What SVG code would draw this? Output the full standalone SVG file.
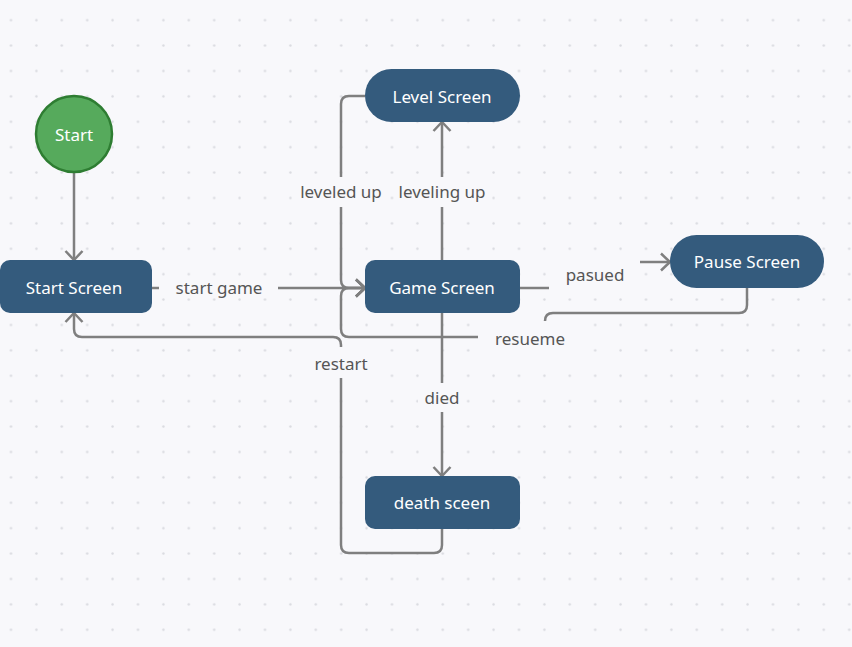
<svg xmlns="http://www.w3.org/2000/svg" width="852" height="647" viewBox="0 0 852 647">
<defs>
<pattern id="grid" patternUnits="userSpaceOnUse" x="9.5" y="18.7" width="25.4" height="25.4">
<circle cx="1.5" cy="1.5" r="1.2" fill="#d9dae0"/>
</pattern>
<marker id="arr" markerUnits="userSpaceOnUse" markerWidth="14" markerHeight="20" refX="11" refY="10" orient="auto">
<path d="M2,1.5 L11,10 L2,18.5" fill="none" stroke="#7f7f7f" stroke-width="2.5" stroke-linejoin="miter"/>
</marker>
<style>
.bg{fill:#f8f8fb}
.node{fill:#345b7d}
.ntext{font-family:"Noto Sans","Open Sans","DejaVu Sans",sans-serif;font-size:17px;fill:#ffffff;text-anchor:middle;dominant-baseline:central}
.edge{fill:none;stroke:#7f7f7f;stroke-width:2.5}
.lbg{fill:#f8f8fb}
.ltext{font-family:"Noto Sans","Open Sans","DejaVu Sans",sans-serif;font-size:17px;fill:#555555;text-anchor:middle;dominant-baseline:central}
</style>
</defs>
<rect class="bg" x="0" y="0" width="852" height="647"/>
<rect x="0" y="0" width="852" height="647" fill="url(#grid)"/>

<g id="connectors">
<path class="edge" d="M74,173 V260" marker-end="url(#arr)"/>
<path class="edge" d="M152,288 H365" marker-end="url(#arr)"/>
<path class="edge" d="M365,96 H349 Q341,96 341,104 V280 Q341,288 349,288 H365" marker-end="url(#arr)"/>
<path class="edge" d="M442,260 V122" marker-end="url(#arr)"/>
<path class="edge" d="M520,288 H595 V262 H670" marker-end="url(#arr)"/>
<path class="edge" d="M747,288 V305 Q747,313 739,313 H553 Q545,313 545,321 V337 H349 Q341,337 341,329 V296 Q341,288 349,288 H365" marker-end="url(#arr)"/>
<path class="edge" d="M442,313 V476" marker-end="url(#arr)"/>
<path class="edge" d="M442,529 V545 Q442,553 434,553 H349 Q341,553 341,545 V345 Q341,337 333,337 H82 Q74,337 74,329 V313" marker-end="url(#arr)"/>

<g id="label-start-game"><rect class="lbg" x="159" y="278" width="119" height="20"/><text class="ltext" x="219" y="287">start game</text></g>
<g id="label-leveled-up"><rect class="lbg" x="296" y="177" width="90" height="30"/><text class="ltext" x="341" y="191">leveled up</text></g>
<g id="label-leveling-up"><rect class="lbg" x="395" y="177" width="94" height="30"/><text class="ltext" x="442" y="191">leveling up</text></g>
<g id="label-pasued"><rect class="lbg" x="549" y="255" width="91" height="40"/><text class="ltext" x="595" y="274">pasued</text></g>
<g id="label-resueme"><rect class="lbg" x="478" y="321" width="104" height="34"/><text class="ltext" x="530" y="338">resueme</text></g>
<g id="label-restart"><rect class="lbg" x="308" y="347" width="66" height="31"/><text class="ltext" x="341" y="363">restart</text></g>
<g id="label-died"><rect class="lbg" x="418" y="383" width="48" height="29"/><text class="ltext" x="442" y="397">died</text></g>
</g>

<g id="start">
<circle cx="74" cy="134" r="38" fill="#56aa5c" stroke="#2e7d32" stroke-width="2.5"/>
<text class="ntext" x="74" y="134">Start</text>
</g>
<g id="start-screen">
<rect class="node" x="0" y="260" width="152" height="53" rx="10"/>
<text class="ntext" x="74" y="287">Start Screen</text>
</g>
<g id="game-screen">
<rect class="node" x="365" y="260" width="155" height="53" rx="10"/>
<text class="ntext" x="442" y="287">Game Screen</text>
</g>
<g id="level-screen">
<rect class="node" x="365" y="69" width="155" height="53" rx="26.5"/>
<text class="ntext" x="442" y="96">Level Screen</text>
</g>
<g id="pause-screen">
<rect class="node" x="670" y="235" width="154" height="53" rx="26.5"/>
<text class="ntext" x="747" y="261">Pause Screen</text>
</g>
<g id="death-screen">
<rect class="node" x="365" y="476" width="155" height="53" rx="10"/>
<text class="ntext" x="442" y="502">death sceen</text>
</g>
</svg>
